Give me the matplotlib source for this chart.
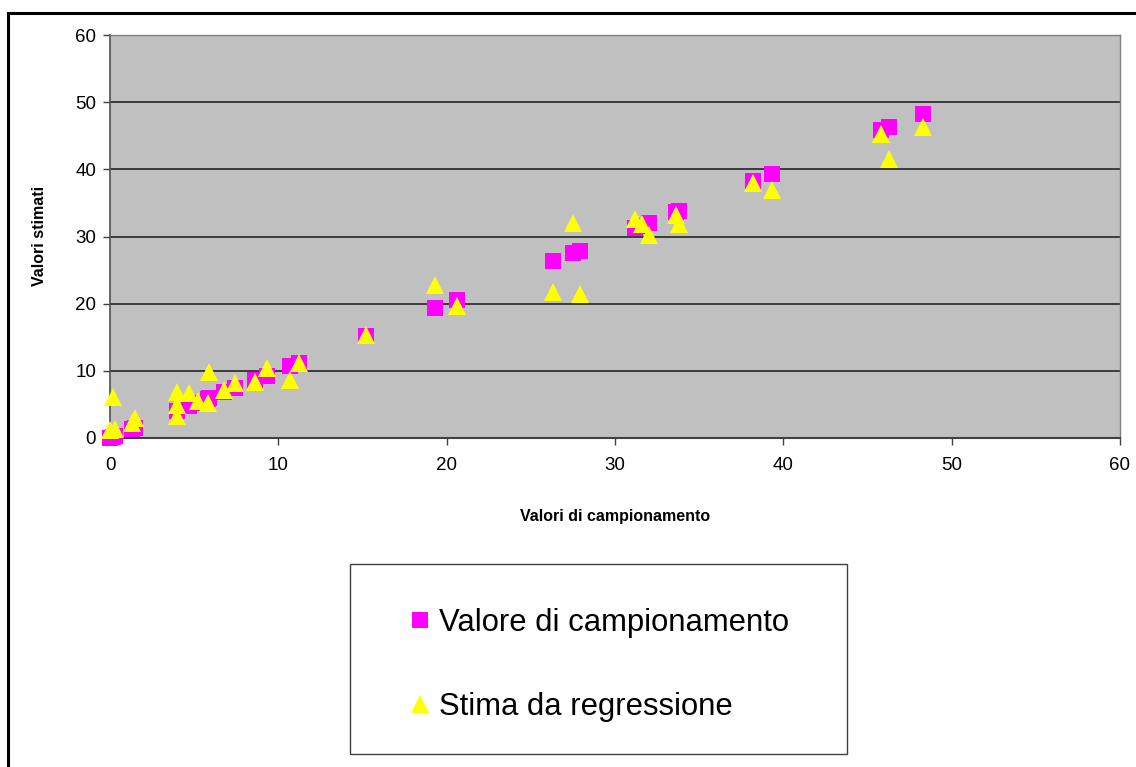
import numpy as np
import matplotlib.pyplot as plt
from matplotlib.patches import Rectangle
from matplotlib.lines import Line2D

plt.rcParams['font.family'] = ['Liberation Sans', 'DejaVu Sans']

# sample values (x) ; squares plot the sample against itself
campionamento = [0.0, 0.2, 0.3, 1.3, 1.5, 4.0, 4.0, 4.0, 4.7, 5.2, 5.8, 5.9,
                 6.8, 7.4, 8.6, 9.3, 10.7, 11.2, 15.2, 19.3, 20.6, 26.3, 27.5,
                 27.9, 31.2, 31.6, 32.0, 33.6, 33.8, 38.2, 39.3, 45.8, 46.3, 48.3]
# regression estimates
stima = [1.2, 6.1, 1.4, 2.3, 3.0, 6.8, 4.9, 3.3, 6.7, 5.5, 5.2, 9.9,
         7.1, 8.2, 8.4, 10.4, 8.7, 11.2, 15.4, 22.8, 19.6, 21.8, 32.0,
         21.4, 32.6, 31.8, 30.2, 33.2, 31.9, 37.9, 36.9, 45.3, 41.5, 46.3]

ticks = [0, 10, 20, 30, 40, 50, 60]

fig = plt.figure(figsize=(11.36, 7.67), dpi=100)

# outer chart frame
fig.patches.append(Rectangle((8/1136, -0.05), 1.1, 1 - 13/767 + 0.05,
                             transform=fig.transFigure, fill=False,
                             edgecolor='black', linewidth=2.2, zorder=0))

ax = fig.add_axes([110/1136, 1 - 438/767, 1010/1136, 403/767])
ax.set_facecolor('#C0C0C0')
ax.set_xlim(0, 60)
ax.set_ylim(0, 60)
ax.set_xticks(ticks)
ax.set_yticks(ticks)

for y in ticks[1:-1]:
    ax.axhline(y, color='#303030', linewidth=1.3, zorder=1)

ax.plot(campionamento, campionamento, linestyle='none', marker='s',
        markersize=11.5, color='#FF00FF', markeredgewidth=0, clip_on=False, zorder=3)
ax.plot(campionamento, stima, linestyle='none', marker='^',
        markersize=13.5, color='#FFFF00', markeredgewidth=0, clip_on=False, zorder=4)

for side in ['top', 'right']:
    ax.spines[side].set_color('#808080')
    ax.spines[side].set_linewidth(1.0)
ax.spines['left'].set_color('#505050')
ax.spines['bottom'].set_color('#404040')
ax.spines['left'].set_linewidth(1.2)
ax.spines['bottom'].set_linewidth(1.5)

ax.tick_params(axis='both', direction='out', length=5, width=1.0,
               color='#404040', labelsize=13.5)
ax.tick_params(axis='x', pad=9)
ax.tick_params(axis='y', pad=5)

fig.text(615/1136, 1 - 517/767, 'Valori di campionamento', ha='center',
         va='center', fontsize=11.5, fontweight='bold')
fig.text(40/1136, 1 - 236/767, 'Valori stimati', ha='center', va='center',
         rotation=90, fontsize=11.5, fontweight='bold')

# legend box
fig.patches.append(Rectangle((350/1136, 1 - 754/767), 497/1136, 190/767,
                             transform=fig.transFigure, facecolor='white',
                             edgecolor='#404040', linewidth=1.0, zorder=1))
handles = [Line2D([], [], linestyle='none', marker='s', markersize=11,
                  color='#FF00FF', markeredgewidth=0),
           Line2D([], [], linestyle='none', marker='^', markersize=13,
                  color='#FFFF00', markeredgewidth=0)]
fig.legend(handles, ['Valore di campionamento', 'Stima da regressione'],
           loc='center left', bbox_to_anchor=(408/1136, 1 - 665/767),
           frameon=False, fontsize=22.3, labelspacing=1.75, handlelength=0.8,
           handletextpad=0.21, borderpad=0, borderaxespad=0)

fig.savefig('out.png', dpi=100)
